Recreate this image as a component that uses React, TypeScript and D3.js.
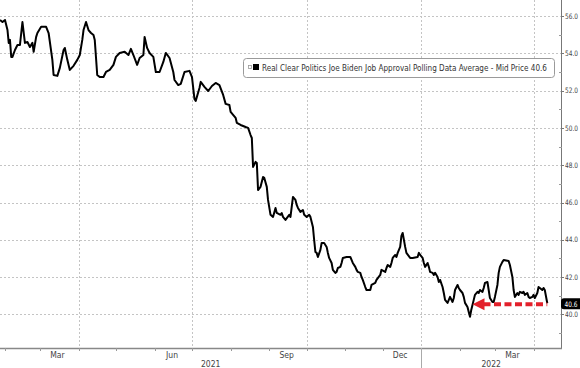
import { useEffect, useRef } from 'react';
import * as d3 from 'd3';

// RCP Biden job approval average
const dates = [
    '2021-01-28', '2021-01-30', '2021-02-01', '2021-02-03', '2021-02-04', '2021-02-05', '2021-02-06', '2021-02-07',
    '2021-02-09', '2021-02-11', '2021-02-13', '2021-02-15', '2021-02-17', '2021-02-19', '2021-02-21', '2021-02-23',
    '2021-02-24', '2021-02-26', '2021-02-27', '2021-03-02', '2021-03-06', '2021-03-08', '2021-03-11', '2021-03-12',
    '2021-03-15', '2021-03-17', '2021-03-20', '2021-03-21', '2021-03-23', '2021-03-25', '2021-03-28', '2021-03-31',
    '2021-04-02', '2021-04-04', '2021-04-05', '2021-04-07', '2021-04-09', '2021-04-11', '2021-04-13', '2021-04-14',
    '2021-04-16', '2021-04-18', '2021-04-21', '2021-04-23', '2021-04-26', '2021-04-29', '2021-05-01', '2021-05-04',
    '2021-05-08', '2021-05-11', '2021-05-13', '2021-05-15', '2021-05-18', '2021-05-20', '2021-05-23', '2021-05-24',
    '2021-05-26', '2021-05-28', '2021-05-31', '2021-06-02', '2021-06-05', '2021-06-08', '2021-06-10', '2021-06-13',
    '2021-06-16', '2021-06-17', '2021-06-20', '2021-06-22', '2021-06-25', '2021-06-29', '2021-07-01', '2021-07-03',
    '2021-07-04', '2021-07-07', '2021-07-08', '2021-07-11', '2021-07-14', '2021-07-17', '2021-07-20', '2021-07-23',
    '2021-07-26', '2021-07-28', '2021-07-31', '2021-08-01', '2021-08-05', '2021-08-06', '2021-08-09', '2021-08-13',
    '2021-08-15', '2021-08-17', '2021-08-18', '2021-08-19', '2021-08-21', '2021-08-22', '2021-08-23', '2021-08-25',
    '2021-08-27', '2021-08-28', '2021-08-30', '2021-08-31', '2021-09-02', '2021-09-04', '2021-09-06', '2021-09-07',
    '2021-09-10', '2021-09-11', '2021-09-12', '2021-09-14', '2021-09-17', '2021-09-18', '2021-09-20', '2021-09-22',
    '2021-09-23', '2021-09-24', '2021-09-26', '2021-09-28', '2021-09-29', '2021-10-01', '2021-10-03', '2021-10-04',
    '2021-10-06', '2021-10-07', '2021-10-08', '2021-10-09', '2021-10-10', '2021-10-12', '2021-10-13', '2021-10-15',
    '2021-10-17', '2021-10-18', '2021-10-19', '2021-10-21', '2021-10-22', '2021-10-24', '2021-10-25', '2021-10-26',
    '2021-10-28', '2021-10-29', '2021-10-30', '2021-11-02', '2021-11-05', '2021-11-06', '2021-11-07', '2021-11-09',
    '2021-11-10', '2021-11-11', '2021-11-13', '2021-11-14', '2021-11-15', '2021-11-17', '2021-11-18', '2021-11-21',
    '2021-11-22', '2021-11-25', '2021-11-26', '2021-11-29', '2021-11-30', '2021-12-03', '2021-12-04', '2021-12-05',
    '2021-12-07', '2021-12-08', '2021-12-09', '2021-12-11', '2021-12-12', '2021-12-13', '2021-12-15', '2021-12-16',
    '2021-12-17', '2021-12-19', '2021-12-20', '2021-12-23', '2021-12-25', '2021-12-29', '2021-12-30', '2021-12-31',
    '2022-01-02', '2022-01-03', '2022-01-04', '2022-01-06', '2022-01-07', '2022-01-08', '2022-01-10', '2022-01-11',
    '2022-01-12', '2022-01-14', '2022-01-15', '2022-01-16', '2022-01-18', '2022-01-19', '2022-01-20', '2022-01-22',
    '2022-01-23', '2022-01-24', '2022-01-26', '2022-01-27', '2022-01-28', '2022-01-30', '2022-01-31', '2022-02-01',
    '2022-02-03', '2022-02-04', '2022-02-05', '2022-02-07', '2022-02-08', '2022-02-09', '2022-02-10', '2022-02-11',
    '2022-02-12', '2022-02-13', '2022-02-15', '2022-02-16', '2022-02-17', '2022-02-19', '2022-02-20', '2022-02-21',
    '2022-02-23', '2022-02-24', '2022-02-25', '2022-02-27', '2022-02-28', '2022-03-01', '2022-03-03', '2022-03-04',
    '2022-03-05', '2022-03-07', '2022-03-08', '2022-03-12', '2022-03-13', '2022-03-15', '2022-03-16', '2022-03-17',
    '2022-03-19', '2022-03-20', '2022-03-21', '2022-03-23', '2022-03-24', '2022-03-25', '2022-03-27', '2022-03-28',
    '2022-03-29', '2022-03-31', '2022-04-01', '2022-04-02', '2022-04-04', '2022-04-05', '2022-04-06', '2022-04-08',
    '2022-04-09', '2022-04-10', '2022-04-12',
];

const approval = [
    55.79, 55.68, 55.79, 55.25, 54.56, 54.72, 53.81, 53.81,
    54.18, 54.45, 54.45, 55.68, 54.56, 54.61, 54.34, 54.56,
    54.08, 54.88, 55.09, 55.42, 55.42, 55.09, 53.65, 52.84,
    52.79, 53.22, 54.18, 54.29, 53.65, 53.11, 53.33, 53.65,
    53.91, 54.72, 55.25, 55.68, 55.25, 55.09, 54.98, 54.72,
    52.84, 52.73, 52.73, 53.0, 53.11, 53.38, 53.81, 54.02,
    54.08, 53.91, 54.24, 53.91, 53.38, 53.75, 53.91, 54.88,
    54.29, 54.02, 53.81, 53.0, 53.0, 53.54, 54.02, 53.75,
    53.0, 52.57, 52.3, 52.36, 53.0, 53.06, 52.73, 51.55,
    51.45, 52.14, 52.47, 52.2, 51.98, 52.25, 52.41, 52.3,
    51.77, 51.29, 51.23, 50.86, 50.54, 50.27, 50.16, 50.05,
    50.0, 49.62, 49.46, 47.91, 48.18, 48.12, 46.67, 46.84,
    47.37, 47.32, 46.84, 46.14, 45.34, 45.23, 45.71, 45.44,
    45.34, 45.44, 45.23, 45.07, 45.34, 45.23, 46.3, 46.14,
    45.87, 45.71, 45.5, 45.6, 45.34, 45.23, 45.34, 45.23,
    44.69, 43.99, 43.35, 43.3, 43.08, 43.46, 43.83, 43.83,
    43.62, 43.3, 43.03, 42.76, 42.39, 42.23, 42.28, 42.49,
    42.55, 42.76, 43.03, 43.08, 43.08, 42.92, 42.76, 42.55,
    42.39, 42.28, 42.23, 42.01, 41.85, 41.47, 41.31, 41.31,
    41.58, 41.69, 41.85, 42.12, 42.39, 42.28, 42.49, 42.65,
    42.55, 42.76, 43.03, 43.19, 43.08, 43.3, 43.62, 44.21,
    44.37, 43.62, 43.3, 43.03, 43.03, 43.08, 43.3, 43.19,
    43.03, 42.76, 42.55, 42.76, 42.55, 42.28, 42.23, 42.12,
    42.23, 42.01, 41.74, 41.85, 41.47, 41.15, 40.78, 40.62,
    40.78, 40.94, 40.67, 40.88, 41.31, 41.58, 41.42, 41.31,
    41.15, 40.94, 40.62, 40.4, 40.13, 39.87, 40.24, 40.51,
    40.78, 41.05, 41.21, 41.15, 41.31, 41.21, 41.42, 41.69,
    41.74, 41.31, 40.88, 40.67, 40.67, 40.94, 41.58, 42.23,
    42.55, 42.82, 42.92, 42.86, 42.65, 42.01, 41.31, 40.94,
    41.15, 41.05, 41.21, 41.15, 41.21, 41.05, 41.15, 40.94,
    40.88, 40.94, 41.05, 40.88, 41.15, 41.47, 41.42, 41.31,
    41.42, 41.31, 40.6,
];

const yTicks = [40, 42, 44, 46, 48, 50, 52, 54, 56];
const yMinorTicks = [39, 41, 43, 45, 47, 49, 51, 53, 55];
const monthLabels = ['Mar', 'Jun', 'Sep', 'Dec', 'Mar'];
const monthLabelDates = ['2021-03-15', '2021-06-15', '2021-09-15', '2021-12-15', '2022-03-15'];
const gridDates = ['2021-04-01', '2021-07-01', '2021-10-01', '2022-01-01', '2022-04-01'];
const yearLabels = ['2021', '2022'];
const yearStart = '2022-01-01';
const seriesName = 'Real Clear Politics Joe Biden Job Approval Polling Data Average - Mid Price';
const arrowStart = '2022-02-11';

const FONT = "'Liberation Sans Narrow', 'DejaVu Sans Condensed', 'Liberation Sans', Arial, sans-serif";

export default function App() {
    const svgRef = useRef<SVGSVGElement>(null);
    const width = 580;
    const height = 368;
    const plotRight = 561;
    const plotBottom = 348;

    useEffect(() => {
        if (!svgRef.current) return;
        const svg = d3.select(svgRef.current);
        svg.selectAll('*').remove();

        const parse = d3.timeParse('%Y-%m-%d');
        const data = dates.map((d, i) => ({ date: parse(d)!, value: approval[i] }));
        const last = data[data.length - 1];

        const x = d3.scaleTime()
            .domain([parse('2021-01-28')!, parse('2022-04-23')!])
            .range([0, plotRight]);
        const y = d3.scaleLinear()
            .domain([38.2, 56.86])
            .range([plotBottom, 0]);

        svg.append('rect').attr('width', width).attr('height', height).attr('fill', '#fff');

        // grid
        svg.append('g').selectAll('line')
            .data(yTicks)
            .enter().append('line')
            .attr('x1', 0).attr('x2', plotRight)
            .attr('y1', d => Math.round(y(d)) + 0.5).attr('y2', d => Math.round(y(d)) + 0.5)
            .attr('stroke', '#c4c4c4').attr('stroke-dasharray', '2,2');

        svg.append('g').selectAll('line')
            .data(gridDates)
            .enter().append('line')
            .attr('x1', d => Math.round(x(parse(d)!)) + 0.5).attr('x2', d => Math.round(x(parse(d)!)) + 0.5)
            .attr('y1', 0).attr('y2', plotBottom)
            .attr('stroke', '#c4c4c4').attr('stroke-dasharray', '2,2');

        // right axis
        svg.append('line')
            .attr('x1', plotRight + 0.5).attr('x2', plotRight + 0.5)
            .attr('y1', 0).attr('y2', plotBottom)
            .attr('stroke', '#777');

        const yAxis = svg.append('g');
        yAxis.selectAll('line.major')
            .data(yTicks)
            .enter().append('line')
            .attr('class', 'major')
            .attr('x1', plotRight).attr('x2', plotRight + 3)
            .attr('y1', d => Math.round(y(d)) + 0.5).attr('y2', d => Math.round(y(d)) + 0.5)
            .attr('stroke', '#777');
        yAxis.selectAll('line.minor')
            .data(yMinorTicks)
            .enter().append('line')
            .attr('class', 'minor')
            .attr('x1', plotRight - 2).attr('x2', plotRight + 1)
            .attr('y1', d => Math.round(y(d)) + 0.5).attr('y2', d => Math.round(y(d)) + 0.5)
            .attr('stroke', '#999');
        yAxis.selectAll('text')
            .data(yTicks)
            .enter().append('text')
            .attr('x', plotRight + 4)
            .attr('y', d => y(d))
            .attr('dy', '0.35em')
            .attr('font-family', FONT)
            .attr('font-size', 7.5)
            .attr('fill', '#444')
            .attr('textLength', 13)
            .attr('lengthAdjust', 'spacingAndGlyphs')
            .text(d => d.toFixed(1));

        // bottom axis
        svg.append('line')
            .attr('x1', 0).attr('x2', plotRight + 1)
            .attr('y1', plotBottom + 0.5).attr('y2', plotBottom + 0.5)
            .attr('stroke', '#888').attr('stroke-width', 1.5);

        const months = d3.timeMonth.range(x.domain()[0], x.domain()[1]);
        svg.append('g').selectAll('line')
            .data(months)
            .enter().append('line')
            .attr('x1', d => Math.round(x(d)) + 0.5).attr('x2', d => Math.round(x(d)) + 0.5)
            .attr('y1', plotBottom).attr('y2', plotBottom + 3)
            .attr('stroke', '#999');

        svg.append('g').selectAll('text')
            .data(monthLabels)
            .enter().append('text')
            .attr('x', (_d, i) => x(parse(monthLabelDates[i])!))
            .attr('y', plotBottom + 10)
            .attr('text-anchor', 'middle')
            .attr('font-family', FONT)
            .attr('font-size', 8.5)
            .attr('fill', '#444')
            .text(d => d);

        const yx = x(parse(yearStart)!);
        svg.append('line')
            .attr('x1', Math.round(yx) + 0.5).attr('x2', Math.round(yx) + 0.5)
            .attr('y1', plotBottom).attr('y2', height)
            .attr('stroke', '#aaa');
        const yearCenters = [yx / 2, (yx + plotRight) / 2];
        svg.append('g').selectAll('text')
            .data(yearLabels)
            .enter().append('text')
            .attr('x', (_d, i) => yearCenters[i])
            .attr('y', plotBottom + 19)
            .attr('text-anchor', 'middle')
            .attr('font-family', FONT)
            .attr('font-size', 8.5)
            .attr('fill', '#444')
            .text(d => d);

        // series line
        const line = d3.line<{ date: Date; value: number }>()
            .x(d => x(d.date))
            .y(d => y(d.value));
        svg.append('path')
            .datum(data)
            .attr('d', line)
            .attr('fill', 'none')
            .attr('stroke', '#000')
            .attr('stroke-width', 2)
            .attr('stroke-linejoin', 'round');

        // red dashed arrow at last price
        const ay = y(last.value) + 1;
        const ax0 = x(parse(arrowStart)!);
        const ax1 = x(last.date);
        const defs = svg.append('defs');
        defs.append('filter').attr('id', 'glow')
            .attr('x', '-20%').attr('y', '-200%').attr('width', '140%').attr('height', '500%')
            .append('feGaussianBlur').attr('stdDeviation', 2);
        const arrow = svg.append('g');
        arrow.append('line')
            .attr('x1', ax0 + 8).attr('x2', ax1)
            .attr('y1', ay).attr('y2', ay)
            .attr('stroke', '#f3a0a6').attr('stroke-width', 7)
            .attr('filter', 'url(#glow)');
        arrow.append('line')
            .attr('x1', ax0 + 11).attr('x2', ax1)
            .attr('y1', ay).attr('y2', ay)
            .attr('stroke', '#e3202b').attr('stroke-width', 4)
            .attr('stroke-dasharray', '7,3.5');
        arrow.append('path')
            .attr('d', `M${ax0},${ay}L${ax0 + 12},${ay - 6}L${ax0 + 12},${ay + 6}Z`)
            .attr('fill', '#e3202b');

        // last price tag
        const tag = svg.append('g');
        tag.append('rect')
            .attr('x', plotRight).attr('y', ay - 6)
            .attr('width', 26).attr('height', 11).attr('rx', 3)
            .attr('fill', '#000');
        tag.append('text')
            .attr('x', plotRight + 3.5).attr('y', ay)
            .attr('dy', '0.35em')
            .attr('font-family', FONT)
            .attr('font-size', 7.5)
            .attr('fill', '#fff')
            .attr('textLength', 13)
            .attr('lengthAdjust', 'spacingAndGlyphs')
            .text(last.value.toFixed(1));

        // legend
        const lg = svg.append('g');
        lg.append('rect')
            .attr('x', 243.5).attr('y', 58.5)
            .attr('width', 311).attr('height', 19).attr('rx', 3)
            .attr('fill', '#fff').attr('stroke', '#9a9a9a');
        lg.append('rect')
            .attr('x', 248.5).attr('y', 65.5).attr('width', 3).attr('height', 3)
            .attr('fill', '#fff').attr('stroke', '#999').attr('stroke-width', 0.8);
        lg.append('rect')
            .attr('x', 253).attr('y', 64).attr('width', 6).attr('height', 6)
            .attr('fill', '#000');
        lg.append('text')
            .attr('x', 262).attr('y', 71)
            .attr('font-family', FONT)
            .attr('font-size', 8.5)
            .attr('fill', '#333')
            .attr('textLength', 285)
            .attr('lengthAdjust', 'spacingAndGlyphs')
            .text(`${seriesName} ${last.value.toFixed(1)}`);
    }, []);

    return (
        <svg
            ref={svgRef}
            width={width}
            height={height}
            style={{ position: 'fixed', left: 0, top: 0, display: 'block' }}
        />
    );
}
